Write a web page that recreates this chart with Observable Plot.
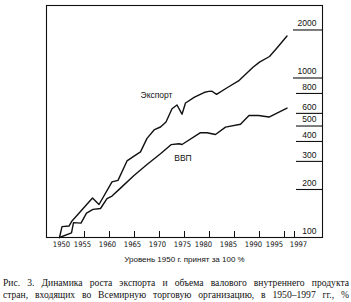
<!DOCTYPE html>
<html>
<head>
<meta charset="utf-8">
<script src="https://cdn.jsdelivr.net/npm/d3@7"></script>
<script src="https://cdn.jsdelivr.net/npm/@observablehq/plot@0.6"></script>
<style>
  body { margin: 0; background: #fff; }
  #chart svg { display: block; }
  #cap { position: absolute; left: 3px; top: 277px; width: 346px;
         font-family: "Liberation Serif", "DejaVu Serif", serif; font-size: 9.6px;
         line-height: 12px; color: #111; }
  #cap div { text-align: justify; text-align-last: justify; }
</style>
</head>
<body>
<div id="chart"></div>
<div id="cap">
  <div id="cap1"></div>
  <div id="cap2"></div>
</div>
<script>
// Export index (1950 = 100)
const exportYears = [1950, 1950.5, 1951.9, 1952.5, 1956.6, 1957.9, 1960.5, 1961.7, 1963.5, 1964.9, 1966.2, 1967.5, 1969, 1970.2, 1971.3, 1972.5, 1973.5, 1974.5, 1975.2, 1977, 1978.9, 1979.8, 1980.5, 1981.4, 1983.6, 1985.8, 1988.7, 1990, 1992, 1993.4, 1995.5];
const exportValues = [100, 117, 118, 127, 177, 161, 223, 228, 302, 324, 344, 418, 475, 493, 530, 641, 677, 593, 697, 758, 811, 825, 826, 790, 872, 958, 1169, 1257, 1364, 1531, 1834];

// GDP index (1950 = 100)
const gdpYears = [1950, 1952.4, 1952.8, 1954.3, 1955.4, 1956.7, 1958.2, 1959.5, 1960.5, 1962.2, 1964.9, 1967.5, 1970.2, 1972.3, 1973.9, 1974.5, 1978.2, 1979.5, 1981.2, 1983.2, 1986.2, 1987.9, 1989.8, 1991.9, 1995.5];
const gdpValues = [100, 107, 124, 123, 142, 150, 152, 175, 182, 204, 245, 287, 335, 382, 387, 383, 454, 454, 442, 492, 513, 582, 582, 569, 648];

const xTickYears = [1955, 1960, 1965, 1970, 1975, 1980, 1985, 1990, 1995, 1997];
const xLabelGroups = [
  {years: [1950], shift: 2},
  {years: [1955, 1960, 1965, 1970, 1975], shift: -2},
  {years: [1980, 1985, 1990], shift: -6},
  {years: [1995], shift: -10},
  {years: [1997], shift: 4}
];
const yTicksShort = [200, 300, 400, 500, 600, 800];
const yTicksLong = [1000, 2000];
const yLabels = [2000, 1000, 800, 600, 500, 400, 300, 200, 100];

const seriesNames = ["Экспорт", "ВВП"];
const seriesLabelYears = [1969.4, 1974.7];
const seriesLabelValues = [777, 314];

const subtitle = "Уровень 1950 г. принят за 100 %";
const captionLines = [
  "Рис. 3. Динамика роста экспорта и объема валового внутреннего продукта",
  "стран, входящих во Всемирную торговую организацию, в 1950–1997 гг., %"
];

const exportData = exportYears.map((y, i) => ({year: y, value: exportValues[i]}));
const gdpData = gdpYears.map((y, i) => ({year: y, value: gdpValues[i]}));
const seriesLabels = seriesNames.map((n, i) => ({name: n, year: seriesLabelYears[i], value: seriesLabelValues[i]}));

const ink = "#111";
const narrow = "Liberation Sans Narrow, DejaVu Sans Condensed, Liberation Sans, sans-serif";

const chart = Plot.plot({
  width: 351,
  height: 270,
  marginLeft: 46,
  marginRight: 29,
  marginTop: 5,
  marginBottom: 33,
  style: {fontFamily: "Liberation Sans, Arial, sans-serif", color: ink, background: "#fff"},
  x: {domain: [1947.4, 2002.6], axis: null},
  y: {type: "log", domain: [100, 2848], axis: null},
  marks: [
    Plot.frame({stroke: ink, strokeWidth: 1.1}),
    Plot.tickX(xTickYears, {x: d => d, insetTop: 226, stroke: ink, strokeWidth: 1}),
    Plot.tickY(yTicksShort, {y: d => d, insetLeft: 250, stroke: ink, strokeWidth: 1.1}),
    Plot.tickY(yTicksLong, {y: d => d, insetLeft: 247, stroke: ink, strokeWidth: 1.1}),
    Plot.text(yLabels, {y: d => d, text: d => String(d), frameAnchor: "right", dx: -6, dy: -6.5,
      textAnchor: "end", fontSize: 8.5, fill: ink}),
    ...xLabelGroups.map(g => Plot.text(g.years, {x: d => d, text: d => String(d), frameAnchor: "bottom",
      dy: 9.5, dx: g.shift, fontFamily: narrow, fontSize: 7.6, fill: ink})),
    Plot.text([subtitle], {text: d => d, frameAnchor: "bottom", dy: 24.7, fontSize: 8, fill: ink}),
    Plot.line(exportData, {x: "year", y: "value", stroke: ink, strokeWidth: 1.4}),
    Plot.line(gdpData, {x: "year", y: "value", stroke: ink, strokeWidth: 1.4}),
    Plot.text(seriesLabels, {x: "year", y: "value", text: "name", fontSize: 8.5, fill: ink})
  ]
});
document.getElementById("chart").appendChild(chart);
document.getElementById("cap1").textContent = captionLines[0];
document.getElementById("cap2").textContent = captionLines[1];
</script>
</body>
</html>
